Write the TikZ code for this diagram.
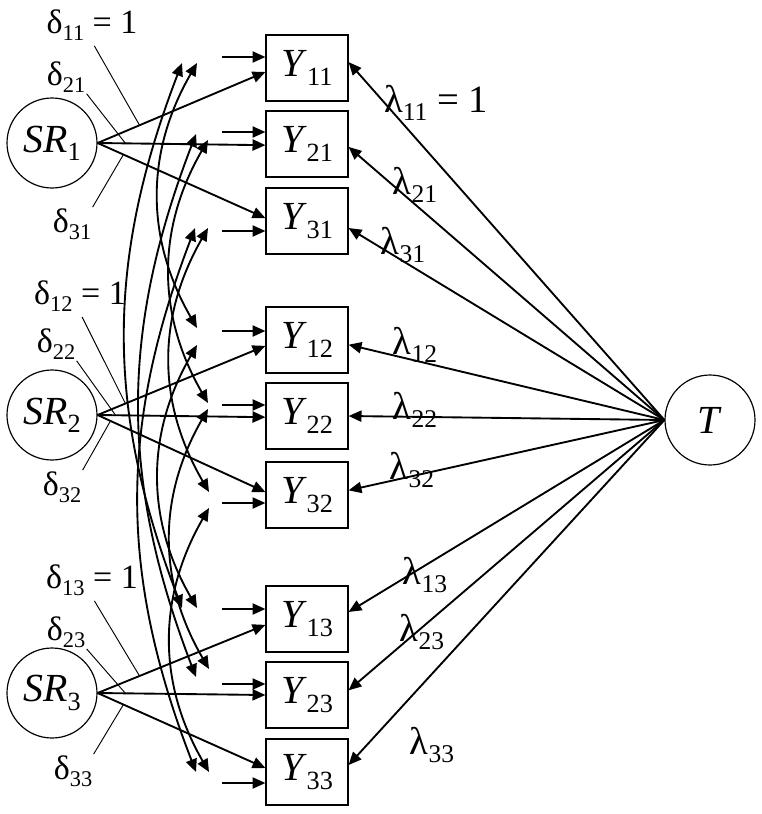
\documentclass[tikz,border=0pt]{standalone}
\usepackage{fontspec}
\setmainfont{Liberation Serif}
\usetikzlibrary{arrows.meta}

\newcommand{\lowsub}[1]{\raisebox{-0.45ex}{\scalebox{0.66}{#1}}}
\tikzset{
  ybox/.style={draw, line width=1pt, minimum width=2.46cm, minimum height=1.98cm, inner sep=0pt, font=\fontsize{34}{35}\selectfont},
  latent/.style={draw, circle, line width=1pt, minimum size=2.7cm, inner sep=0pt, font=\fontsize{34}{35}\selectfont},
  effect/.style={-{Triangle[length=11pt,width=9.5pt]}, line width=1.6pt},
  corr/.style={{Triangle[length=11pt,width=9.5pt]}-{Triangle[length=11pt,width=9.5pt]}, line width=1.6pt},
  pinline/.style={line width=0.8pt},
  lab/.style={inner sep=1pt, font=\fontsize{29}{30}\selectfont},
  lamlab/.style={lab, font=\fontsize{33}{34}\selectfont}
}

\begin{document}
\begin{tikzpicture}[x=0.03cm, y=-0.03cm]
\useasboundingbox (0,0) rectangle (762,814);

% observed variables
\foreach \n/\yy in {11/68,21/144,31/221,12/340,22/416,32/495,13/619,23/695,33/772}
  \node[ybox] (Y\n) at (307,\yy) {\textit{Y}\lowsub{\n}};

% latent variables
\foreach \j/\yy in {1/143,2/415,3/693}
  \node[latent] (SR\j) at (52,\yy) {\textit{SR}\lowsub{\j}};
\node[latent] (T) at (710,420) {\textit{T}};

% error terms
\foreach \n/\yy in {11/57,21/132,31/231,12/331,22/405,32/503,13/609,23/684,33/783}{
  \coordinate (e\n) at (222,\yy);
  \draw[effect] (e\n) -- (e\n -| Y\n.west);
}

% SR -> Y
\foreach \j/\a/\b/\c/\sa/\sb/\sc in {1/0.25/0.166/0.154/-3.4/-1/2.5,
                                    2/0.166/0.107/0.077/-5/-1/2.5,
                                    3/0.25/0.166/0.154/-5/0/3.4}{
  \draw[effect] (SR\j.east) -- coordinate[pos=\a] (p1\j) ([yshift=\sa pt]Y1\j.west);
  \draw[effect] (SR\j.east) -- coordinate[pos=\b] (p2\j) ([yshift=\sb pt]Y2\j.west);
  \draw[effect] (SR\j.east) -- coordinate[pos=\c] (p3\j) ([yshift=\sc pt]Y3\j.west);
}

% delta labels
\node[lab] (d11) at (92,25) {δ\lowsub{11} = 1};
\node[lab] (d21) at (66,77) {δ\lowsub{21}};
\node[lab] (d31) at (72,224) {δ\lowsub{31}};
\node[lab] (d12) at (80,296) {δ\lowsub{12} = 1};
\node[lab] (d22) at (56,344) {δ\lowsub{22}};
\node[lab] (d32) at (62,487) {δ\lowsub{32}};
\node[lab] (d13) at (92,580) {δ\lowsub{13} = 1};
\node[lab] (d23) at (66,632) {δ\lowsub{23}};
\node[lab] (d33) at (73,771) {δ\lowsub{33}};
\foreach \j in {1,2,3}{
  \draw[pinline, shorten <=4pt] (d1\j.south) -- (p1\j);
  \draw[pinline] (d2\j.south east) -- (p2\j);
  \draw[pinline] (d3\j.north east) -- (p3\j);
}

% correlated errors
\foreach \k/\xs/\ys/\xt/\yt/\ang in {1/182/63/182/608/21, 2/197/63/197/328/30, 3/197/345/197/608/30,
                                     4/196/134/196/677/21, 5/208/140/208/403/30, 6/208/409/209/669/30,
                                     7/195/228/196/772/21, 8/208/228/209/492/30, 9/209/508/209/772/30}{
  \coordinate (s\k) at (\xs,\ys);
  \coordinate (t\k) at (\xt,\yt);
  \draw[corr] (s\k) to[bend right=\ang] (t\k);
}

% T -> Y
\foreach \n/\sh in {11/5,21/-2.5,31/-6,12/-4,22/0,32/4,13/6,23/4,33/6}
  \draw[effect] (T.west) -- ([yshift=\sh pt]Y\n.east);

% lambda labels
\node[lamlab] (l11) at (436,103) {λ\lowsub{11} = 1};
\node[lamlab] (l21) at (415,185) {λ\lowsub{21}};
\node[lamlab] (l31) at (403,245) {λ\lowsub{31}};
\node[lamlab] (l12) at (415,345) {λ\lowsub{12}};
\node[lamlab] (l22) at (415,410) {λ\lowsub{22}};
\node[lamlab] (l32) at (412,470) {λ\lowsub{32}};
\node[lamlab] (l13) at (425,575) {λ\lowsub{13}};
\node[lamlab] (l23) at (422,632) {λ\lowsub{23}};
\node[lamlab] (l33) at (432,745) {λ\lowsub{33}};
\end{tikzpicture}
\end{document}
